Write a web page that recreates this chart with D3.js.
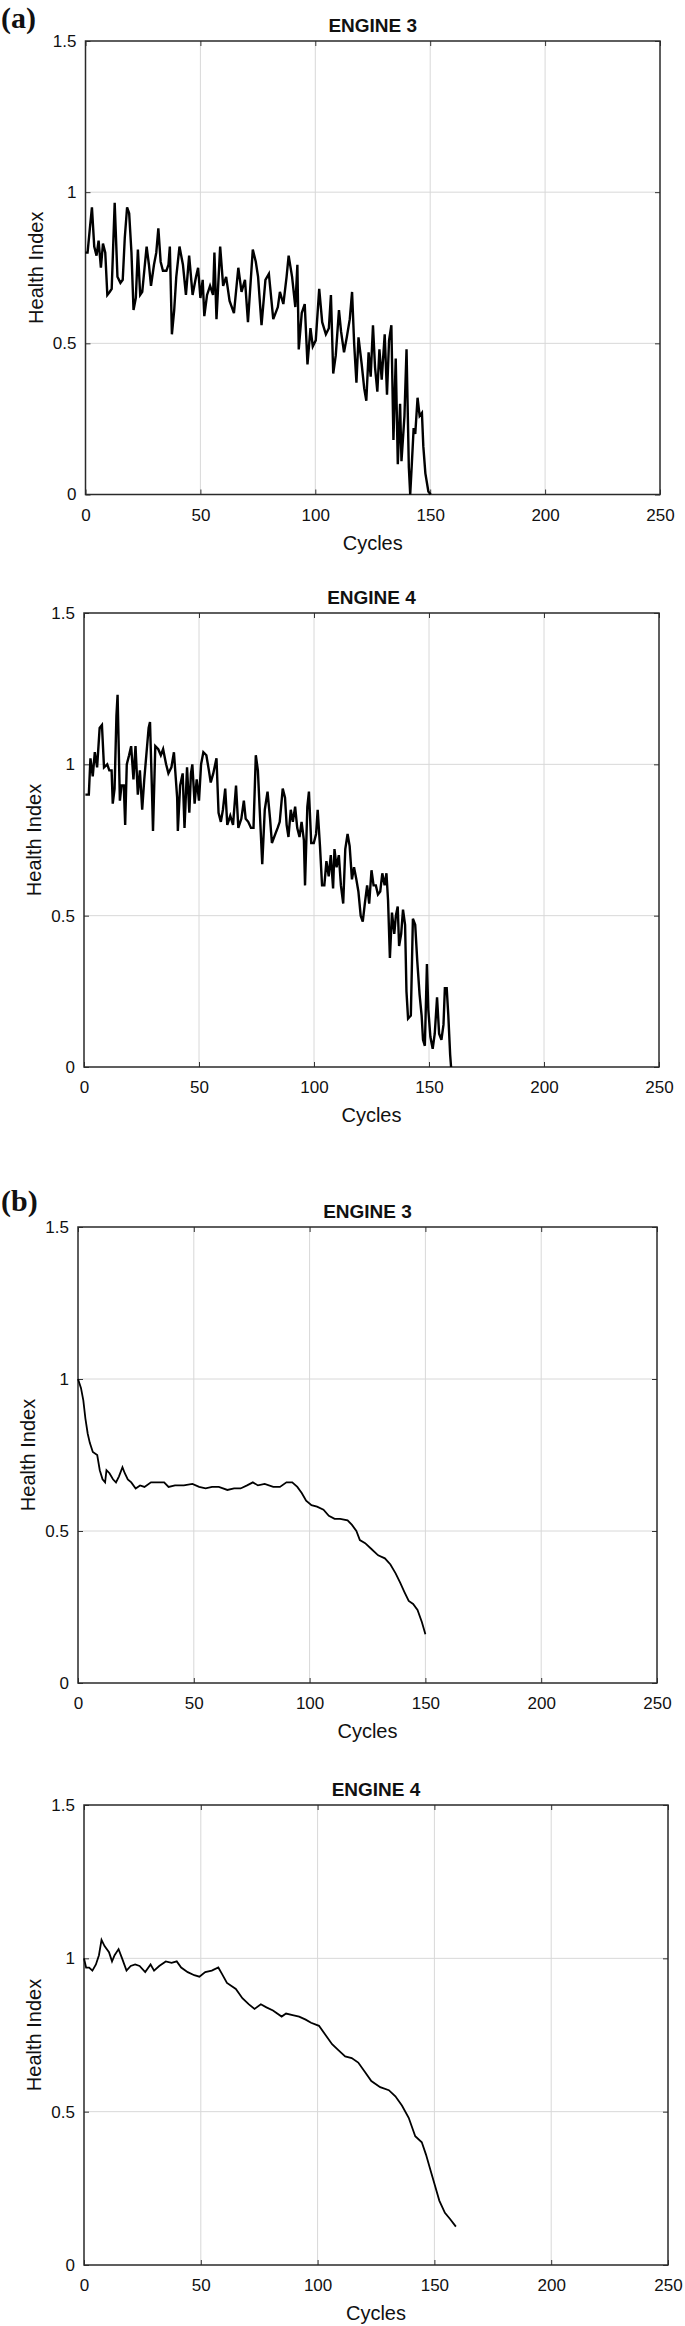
<!DOCTYPE html>
<html>
<head>
<meta charset="utf-8">
<script src="https://cdn.jsdelivr.net/npm/d3@7"></script>
<style>
body{margin:0;background:#fff;}
text{font-family:"Liberation Sans",Arial,sans-serif;fill:#111;}
</style>
</head>
<body>
<div id="chart"></div>
<script>
// health index charts

W=685;
H=2326;

// data

var xTicks=[0,50,100,150,200,250];
var yTicks=[0,0.5,1,1.5];
var yTickLabels=["0","0.5","1","1.5"];

var e3RawCycles=[0,0.9,1.9,2.8,3.8,4.8,5.7,6.7,7.6,8.6,9.5,10.5,11.4,12.7,13.9,15.2,16.2,17.1,18.1,19,20,20.9,21.9,22.8,23.8,24.7,25.7,26.6,27.6,28.5,29.8,30.8,31.7,32.7,33.7,35.2,36.1,36.7,37.6,38.6,39.5,40.9,42.4,43.7,45.1,46.6,48.1,49,50,51,51.7,52.9,54.2,55.5,56.1,57,58.6,59.9,61.2,62.7,64.6,66.5,67.9,69.4,70.7,72.8,74.1,75.1,76.6,78.3,79.8,81.7,83.7,84.6,86.1,87.5,88.4,89.9,91.3,92.2,92.8,94.1,95.4,96.6,97.9,98.9,100.2,101.7,103,104.6,105.9,106.8,107.8,108.9,110.3,111.2,112.5,113.7,115,116,116.9,117.9,118.8,120.2,121.3,122.2,123.2,124.1,125.1,126,127,127.9,128.9,130.2,131.2,132.1,133.1,134,135,135.9,136.9,137.5,138.8,139.7,140.7,141.3,142,142.8,143.5,144.5,145.4,146.4,147,147.9,149.2,150.2];
var e3RawHI=[0.80,0.80,0.88,0.95,0.82,0.79,0.84,0.75,0.83,0.80,0.66,0.67,0.68,0.965,0.72,0.70,0.71,0.85,0.95,0.93,0.80,0.61,0.65,0.81,0.66,0.67,0.75,0.82,0.76,0.69,0.76,0.80,0.88,0.77,0.74,0.74,0.76,0.82,0.53,0.61,0.72,0.82,0.76,0.66,0.79,0.66,0.72,0.75,0.65,0.71,0.59,0.66,0.69,0.66,0.80,0.58,0.82,0.69,0.72,0.64,0.60,0.75,0.67,0.71,0.57,0.81,0.77,0.72,0.56,0.71,0.73,0.58,0.62,0.67,0.63,0.72,0.79,0.72,0.62,0.76,0.48,0.60,0.63,0.43,0.55,0.49,0.51,0.68,0.57,0.53,0.55,0.66,0.40,0.46,0.61,0.54,0.47,0.52,0.58,0.67,0.50,0.37,0.52,0.43,0.35,0.31,0.47,0.39,0.56,0.42,0.34,0.48,0.38,0.53,0.33,0.51,0.56,0.18,0.45,0.10,0.30,0.11,0.26,0.48,0.09,0.00,0.10,0.22,0.20,0.32,0.26,0.27,0.16,0.07,0.01,0.00];

var e4RawCycles=[0.6,2.1,2.8,3.8,4.7,5.7,6.8,7.8,8.7,10.1,11,12,12.5,13.3,14.1,14.6,15.6,16.3,17.3,17.9,18.6,19.6,20.5,21.5,22.4,23.4,24.3,25.3,26.2,27.2,28.1,28.7,29.6,30,31,32.3,33.4,34.4,35.7,36.7,38,39.1,40.5,40.8,41.8,42.9,43.7,44.8,45.8,46.5,47.1,48.1,49,50,50.9,51.9,53.2,54.3,55.1,56.2,57.6,58.5,59.5,60.4,61.4,62.3,63.6,64.8,66.1,67.1,68.4,69.5,70.3,71.4,72.6,73.7,74.7,75.6,76.7,77.5,78.6,79.8,80.9,81.7,83.2,84.2,85.1,86.4,87.4,88.1,88.9,89.9,90.8,91.8,92.7,93.7,94.6,95.6,96.1,97.1,97.8,98.8,99.9,100.9,101.6,102.6,103.5,104.5,105.4,106.4,107.3,108.3,108.9,109.8,110.8,111.7,112.7,113.6,114.6,115.5,116.5,117.4,118.4,119.3,120.3,121.2,122.1,123.1,124,125,125.9,126.9,127.8,128.8,129.7,130.7,131.5,132.2,133,133.9,134.9,135.6,136.4,137,137.9,138.7,139.6,140.2,140.9,142.1,143,144,144.9,145.9,146.8,147.4,148.2,149.1,149.7,150.6,151.6,152.5,153.5,154.4,155.4,156.3,156.9,157.7,158.4,159.2,159.6];
var e4RawHI=[0.90,0.90,1.02,0.96,1.04,0.99,1.12,1.13,0.99,1.00,0.98,0.98,0.87,0.92,1.16,1.23,0.88,0.93,0.93,0.80,1.00,1.03,1.06,0.95,1.06,0.90,0.98,0.85,0.95,1.04,1.12,1.14,0.90,0.78,1.06,1.05,1.03,1.05,1.00,0.97,0.99,1.04,0.89,0.78,0.93,0.97,0.79,0.99,0.84,0.97,1.00,0.87,0.95,0.88,1.00,1.04,1.03,0.98,0.94,0.97,1.02,0.84,0.81,0.85,0.92,0.80,0.83,0.80,0.93,0.79,0.82,0.88,0.82,0.81,0.79,0.79,1.03,0.98,0.80,0.67,0.85,0.91,0.82,0.74,0.77,0.79,0.81,0.92,0.89,0.80,0.76,0.85,0.81,0.86,0.79,0.76,0.81,0.75,0.60,0.86,0.91,0.74,0.74,0.77,0.85,0.73,0.60,0.60,0.68,0.63,0.70,0.59,0.72,0.66,0.70,0.60,0.54,0.72,0.77,0.73,0.62,0.66,0.62,0.58,0.50,0.48,0.54,0.60,0.54,0.65,0.60,0.60,0.57,0.58,0.64,0.60,0.64,0.55,0.36,0.51,0.44,0.50,0.53,0.40,0.44,0.52,0.47,0.25,0.16,0.17,0.49,0.47,0.35,0.24,0.17,0.09,0.07,0.34,0.19,0.10,0.06,0.11,0.23,0.11,0.09,0.14,0.26,0.26,0.17,0.04,0.00];

var e3SmoothCycles=[0,1.3,2.3,3.2,4.2,5.1,6.4,8.3,9.4,10.6,11.7,12.3,13.6,15.1,16.4,17.7,19.2,20.2,21.5,23,24.9,26.8,28.7,31.5,34.3,37.2,39.1,41.9,45.7,49.4,52.3,55.1,57.9,60.8,62.6,64.5,67.4,70.2,73,75.5,77.7,80.6,84.3,87.2,90,92.5,94.7,96.6,98.5,100.8,103.2,106,108.3,110.8,113.2,116.4,118.3,120.2,121.7,124,126.8,129.6,132.5,134.9,137.2,139.1,140.9,142.8,144.7,146.6,148.5,150];
var e3SmoothHI=[1.00,0.97,0.93,0.87,0.82,0.79,0.76,0.75,0.70,0.67,0.66,0.70,0.69,0.67,0.66,0.68,0.71,0.69,0.67,0.66,0.64,0.65,0.645,0.66,0.66,0.66,0.645,0.65,0.65,0.655,0.645,0.64,0.645,0.645,0.64,0.635,0.64,0.64,0.65,0.66,0.65,0.655,0.645,0.645,0.66,0.66,0.645,0.625,0.60,0.585,0.58,0.57,0.55,0.54,0.54,0.535,0.52,0.50,0.47,0.46,0.44,0.42,0.41,0.39,0.36,0.33,0.30,0.27,0.26,0.24,0.20,0.16];

var e4SmoothCycles=[0,0.9,2.2,3.6,5.1,6.4,7.5,8.8,10.7,12,13.1,14.8,16.3,18.2,20,21.9,23.8,26.2,28.5,30,32.2,35,37.5,39.7,41.6,44.4,47.2,49.4,51.9,54.7,57.5,59,61.2,65,67.8,70.6,73,75.7,78.1,80.9,84.6,86.5,89.3,92.1,94.9,97.2,100.6,103.4,106.2,109,111.8,114.6,117.4,120.2,123,126.8,130.5,133.3,136.1,139,141.8,144.6,146.4,148.3,150.2,152.1,154.5,156.7,159.2];
var e4SmoothHI=[1.00,0.97,0.97,0.96,0.98,1.01,1.06,1.04,1.02,0.99,1.01,1.03,1.00,0.96,0.975,0.98,0.975,0.955,0.98,0.96,0.975,0.99,0.985,0.99,0.97,0.955,0.945,0.94,0.955,0.96,0.97,0.95,0.92,0.90,0.87,0.85,0.835,0.85,0.84,0.83,0.81,0.82,0.815,0.81,0.80,0.79,0.78,0.75,0.72,0.70,0.68,0.675,0.66,0.63,0.60,0.58,0.57,0.55,0.52,0.48,0.42,0.40,0.36,0.31,0.26,0.21,0.17,0.15,0.125];

// layout

var panels=[
	{title:"ENGINE 3",x:e3RawCycles,y:e3RawHI,l:85.5,r:660,t:41,b:494.5,sw:2.4},
	{title:"ENGINE 4",x:e4RawCycles,y:e4RawHI,l:84,r:659,t:613,b:1067,sw:2.4},
	{title:"ENGINE 3",x:e3SmoothCycles,y:e3SmoothHI,l:78,r:657,t:1227,b:1683,sw:1.8},
	{title:"ENGINE 4",x:e4SmoothCycles,y:e4SmoothHI,l:84,r:668,t:1805,b:2265,sw:1.8}
];

var svg=d3.select("#chart").append("svg").attr("width",W).attr("height",H);
svg.append("rect").attr("width",W).attr("height",H).style("fill","#fff");

svg.append("text").attr("x",1).attr("y",28).text("(a)")
	.style("font-family","'Liberation Serif','Times New Roman',serif").style("font-weight","bold").style("font-size","30px");
svg.append("text").attr("x",1).attr("y",1211).text("(b)")
	.style("font-family","'Liberation Serif','Times New Roman',serif").style("font-weight","bold").style("font-size","30px");

panels.forEach(function(p) {
	var x=d3.scaleLinear().domain([0,250]).range([p.l,p.r]);
	var y=d3.scaleLinear().domain([0,1.5]).range([p.b,p.t]);
	var g=svg.append("g");

	// grid
	g.selectAll(".gx").data(xTicks.slice(1,-1)).enter().append("line")
		.attr("x1",function(d) {return x(d);}).attr("x2",function(d) {return x(d);})
		.attr("y1",p.t).attr("y2",p.b)
		.style("stroke","#d8d8d8").style("stroke-width",1);
	g.selectAll(".gy").data(yTicks.slice(1,-1)).enter().append("line")
		.attr("y1",function(d) {return y(d);}).attr("y2",function(d) {return y(d);})
		.attr("x1",p.l).attr("x2",p.r)
		.style("stroke","#d8d8d8").style("stroke-width",1);

	// axes
	g.append("g").attr("transform","translate(0,"+p.b+")")
		.call(d3.axisBottom(x).tickValues(xTicks).tickSize(-5).tickPadding(14));
	g.append("g").attr("transform","translate("+p.l+",0)")
		.call(d3.axisLeft(y).tickValues(yTicks).tickFormat(function(d,i) {return yTickLabels[i];}).tickSize(-5).tickPadding(9));
	g.append("g").attr("transform","translate(0,"+p.t+")")
		.call(d3.axisTop(x).tickValues(xTicks).tickSize(-5).tickFormat(""));
	g.append("g").attr("transform","translate("+p.r+",0)")
		.call(d3.axisRight(y).tickValues(yTicks).tickSize(-5).tickFormat(""));
	g.selectAll(".domain").remove();
	g.selectAll(".tick line").style("stroke","#333");
	g.selectAll(".tick text").style("font-size","17px").style("fill","#111")
		.style("font-family","'Liberation Sans',Arial,sans-serif");

	// frame
	g.append("rect").attr("x",p.l).attr("y",p.t).attr("width",p.r-p.l).attr("height",p.b-p.t)
		.style("fill","none").style("stroke","#2a2a2a").style("stroke-width",1.5);

	// series
	var pts=p.x.map(function(c,i) {return [c,p.y[i]];});
	g.append("path").datum(pts)
		.attr("d",d3.line().x(function(d) {return x(d[0]);}).y(function(d) {return y(d[1]);}))
		.style("fill","none").style("stroke","#000").style("stroke-width",p.sw).style("stroke-linejoin","miter");

	// labels
	g.append("text").attr("x",(p.l+p.r)/2).attr("y",p.t-16).attr("dy","0.35em")
		.attr("text-anchor","middle").text(p.title)
		.style("font-weight","bold").style("font-size","19px");
	g.append("text").attr("x",(p.l+p.r)/2).attr("y",p.b+48).attr("dy","0.35em")
		.attr("text-anchor","middle").text("Cycles").style("font-size","20px");
	g.append("text").attr("transform","translate("+(p.l-50)+","+((p.t+p.b)/2)+") rotate(-90)")
		.attr("dy","0.35em").attr("text-anchor","middle").text("Health Index").style("font-size","20px");
});
</script>
</body>
</html>
